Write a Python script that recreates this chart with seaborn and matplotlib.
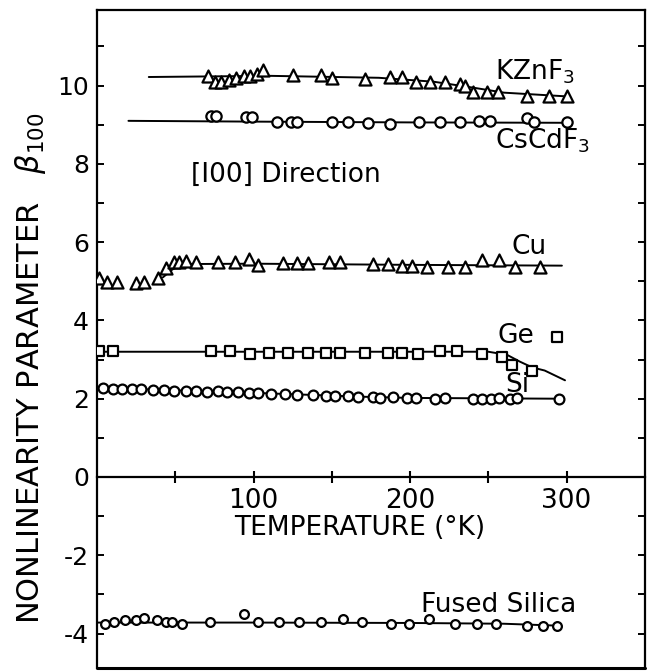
import matplotlib
matplotlib.use("Agg")
import matplotlib.pyplot as plt
import seaborn as sns

# measured points (temperature in K, nonlinearity parameter beta_100)
KZNF3_T = [71, 75, 79, 84, 89, 94, 98, 102, 106, 125, 143, 150, 171, 187, 195,
           204, 213, 222, 232, 235, 240, 249, 256, 275, 289, 300]
KZNF3_B = [10.25, 10.1, 10.1, 10.15, 10.2, 10.25, 10.25, 10.3, 10.4, 10.26, 10.26,
           10.2, 10.18, 10.23, 10.23, 10.08, 10.08, 10.08, 10.03, 10.0, 9.83, 9.83,
           9.83, 9.74, 9.74, 9.74]

CSCDF3_T = [73, 76, 95, 99, 115, 124, 128, 150, 160, 173, 187, 206, 219, 232, 244,
            251, 275, 279, 300]
CSCDF3_B = [9.22, 9.22, 9.2, 9.2, 9.06, 9.06, 9.08, 9.06, 9.06, 9.05, 9.02, 9.06,
            9.06, 9.06, 9.1, 9.1, 9.18, 9.06, 9.07]

CU_T = [1, 6, 13, 25, 30, 39, 44, 49, 52, 57, 63, 77, 88, 97, 103, 119, 128, 135,
        148, 155, 176, 186, 195, 201, 211, 224, 235, 246, 257, 267, 283]
CU_B = [5.08, 4.98, 4.98, 4.95, 4.98, 5.08, 5.33, 5.5, 5.5, 5.52, 5.5, 5.5, 5.5,
        5.58, 5.42, 5.46, 5.46, 5.46, 5.5, 5.5, 5.45, 5.45, 5.4, 5.4, 5.37, 5.37,
        5.37, 5.54, 5.54, 5.37, 5.37]

GE_T = [1, 10, 73, 85, 98, 110, 122, 135, 146, 155, 171, 186, 195, 205, 219, 230,
        246, 259, 265, 278]
GE_B = [3.22, 3.22, 3.22, 3.22, 3.14, 3.18, 3.18, 3.18, 3.18, 3.18, 3.18, 3.18,
        3.18, 3.15, 3.22, 3.22, 3.15, 3.06, 2.86, 2.72]

SI_T = [4, 10, 16, 22, 28, 36, 43, 49, 57, 63, 70, 77, 83, 90, 97, 103, 111, 120,
        128, 138, 146, 152, 160, 167, 176, 181, 189, 198, 204, 216, 222, 240, 246,
        252, 257, 264, 268, 295]
SI_B = [2.28, 2.25, 2.26, 2.24, 2.25, 2.22, 2.23, 2.2, 2.2, 2.19, 2.18, 2.2, 2.17,
        2.16, 2.15, 2.14, 2.12, 2.13, 2.1, 2.1, 2.08, 2.07, 2.06, 2.05, 2.04, 2.03,
        2.04, 2.02, 2.03, 2.0, 2.01, 1.99, 2.0, 2.0, 2.01, 2.0, 2.01, 2.0]

SILICA_T = [5, 11, 18, 25, 30, 38, 44, 48, 54, 72, 94, 103, 116, 129, 143, 157,
            169, 188, 199, 212, 229, 243, 255, 275, 285, 294]
SILICA_B = [-3.75, -3.7, -3.65, -3.65, -3.6, -3.65, -3.7, -3.7, -3.75, -3.7, -3.5,
            -3.7, -3.7, -3.7, -3.7, -3.62, -3.7, -3.75, -3.75, -3.62, -3.75, -3.75,
            -3.75, -3.82, -3.82, -3.82]

# hand-drawn smooth curves through the data
KZNF3_CURVE_T = [33, 110, 180, 215, 240, 260, 302]
KZNF3_CURVE_B = [10.22, 10.25, 10.2, 10.1, 9.95, 9.82, 9.72]
CSCDF3_CURVE_T = [20, 100, 200, 300]
CSCDF3_CURVE_B = [9.1, 9.08, 9.06, 9.05]
CU_CURVE_T = [42, 48, 55, 100, 200, 297]
CU_CURVE_B = [5.1, 5.3, 5.44, 5.45, 5.42, 5.4]
GE_CURVE_T = [0, 250, 262, 270, 278, 286, 299]
GE_CURVE_B = [3.2, 3.2, 3.12, 2.95, 2.8, 2.72, 2.47]
SI_CURVE_T = [0, 100, 170, 200, 295]
SI_CURVE_B = [2.28, 2.15, 2.05, 2.02, 2.0]
SILICA_CURVE_T = [0, 100, 200, 260, 295]
SILICA_CURVE_B = [-3.72, -3.72, -3.73, -3.75, -3.8]

# Ge key symbol next to its label
GE_KEY_T = [294]
GE_KEY_B = [3.58]

sns.set_theme(style="ticks")
plt.rcParams["font.family"] = ["DejaVu Sans"]
plt.rcParams["axes.unicode_minus"] = False
plt.rcParams["text.color"] = "black"
plt.rcParams["axes.labelcolor"] = "black"

fig = plt.figure(figsize=(6.52, 6.72), dpi=100)
ax = fig.add_axes([0.149, 0.006, 0.840, 0.979])

line_kw = dict(color="black", lw=1.4, estimator=None, sort=False, ax=ax, zorder=2)
for t, b in [
    (KZNF3_CURVE_T, KZNF3_CURVE_B),
    (CSCDF3_CURVE_T, CSCDF3_CURVE_B),
    (CU_CURVE_T, CU_CURVE_B),
    (GE_CURVE_T, GE_CURVE_B),
    (SI_CURVE_T, SI_CURVE_B),
    (SILICA_CURVE_T, SILICA_CURVE_B),
]:
    sns.lineplot(x=t, y=b, **line_kw)

pt_kw = dict(color="white", edgecolor="black", linewidth=1.6, ax=ax, zorder=3)
sns.scatterplot(x=KZNF3_T, y=KZNF3_B, marker="^", s=75, **pt_kw)
sns.scatterplot(x=CSCDF3_T, y=CSCDF3_B, marker="o", s=55, **pt_kw)
sns.scatterplot(x=CU_T, y=CU_B, marker="^", s=75, **pt_kw)
sns.scatterplot(x=GE_T, y=GE_B, marker="s", s=50, **pt_kw)
sns.scatterplot(x=GE_KEY_T, y=GE_KEY_B, marker="s", s=50, **pt_kw)
sns.scatterplot(x=SI_T, y=SI_B, marker="o", s=50, **pt_kw)
sns.scatterplot(x=SILICA_T, y=SILICA_B, marker="o", s=40, **pt_kw)

ax.set_xlim(0, 350)
ax.set_ylim(-4.88, 11.93)

ax.set_xticks([100, 200, 300])
ax.set_xticks([50, 150, 250], minor=True)
ax.set_yticks(range(-4, 11, 2))
ax.set_yticks(range(-3, 12, 2), minor=True)

for side in ["left", "right", "top", "bottom"]:
    ax.spines[side].set_visible(True)
    ax.spines[side].set_linewidth(1.6)
    ax.spines[side].set_color("black")
ax.spines["bottom"].set_position(("data", 0))
# outer frame bottom edge
ax.plot([0, 1], [0, 0], transform=ax.transAxes, color="black", lw=2.2, clip_on=False)

ax.tick_params(axis="x", which="both", direction="inout", length=8, width=1.5,
               pad=4, labelsize=19, colors="black")
ax.tick_params(axis="y", which="both", direction="in", length=5, width=1.4,
               left=True, right=True, pad=6, labelsize=18, colors="black")

ax.set_xlabel("TEMPERATURE (°K)", fontsize=19, color="black")
ax.xaxis.set_label_coords(0.48, 0.233)
ax.set_ylabel("NONLINEARITY PARAMETER   $\\beta_{100}$", fontsize=22, color="black")
ax.yaxis.set_label_coords(-0.09, 0.455)

txt_kw = dict(fontsize=19, ha="left", va="baseline", color="black")
ax.text(254, 10.15, "KZnF$_3$", **txt_kw)
ax.text(254, 8.4, "CsCdF$_3$", **txt_kw)
ax.text(60, 7.55, "[I00] Direction", **txt_kw)
ax.text(265, 5.71, "Cu", **txt_kw)
ax.text(256, 3.42, "Ge", **txt_kw)
ax.text(261, 2.17, "Si", **txt_kw)
ax.text(207, -3.44, "Fused Silica", **txt_kw)

fig.savefig("out.png", dpi=100, facecolor="white")
